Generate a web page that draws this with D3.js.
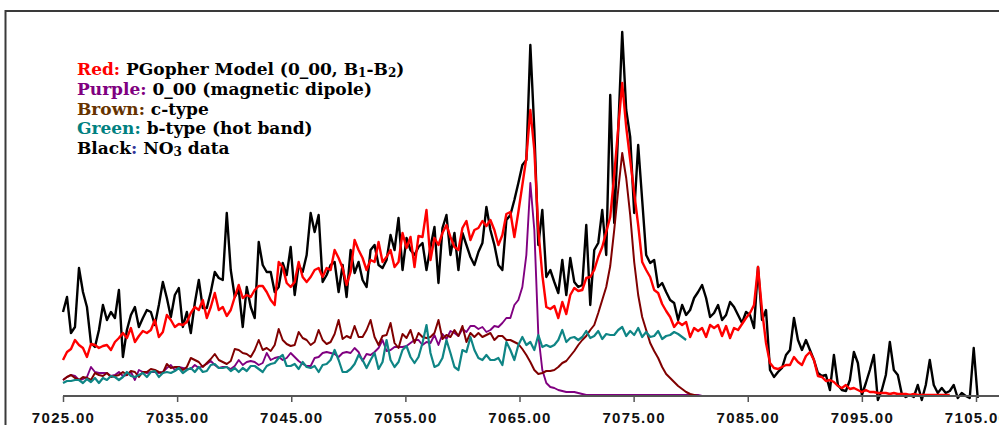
<!DOCTYPE html>
<html>
<head>
<meta charset="utf-8">
<script src="https://cdn.jsdelivr.net/npm/d3@7"></script>
<style>
  body { margin: 0; background: #fff; }
  svg { display: block; }
</style>
</head>
<body>
<div id="chart"></div>
<script>
// spectra sampled on an even grid, wavenumber = START + i * STEP (cm-1)
const START = 7025;
const STEP = 0.35;
const tickValues = [7025, 7035, 7045, 7055, 7065, 7075, 7085, 7095, 7105];

// NO3 data (black)
const dataBlack = [84,99,63,69,128,104,89,53,49,66,
  91,76,84,78,106,39,66,81,89,69,
  78,86,84,71,91,114,98,79,101,108,
  69,84,63,93,116,88,88,104,124,118,
  116,183,126,99,106,69,109,89,78,154,
  131,124,124,104,109,133,121,149,101,131,
  124,141,183,164,181,114,121,131,134,104,
  131,99,146,123,134,116,109,146,151,131,
  128,136,161,146,178,126,158,146,141,149,
  153,126,149,169,113,168,181,141,163,126,
  163,151,139,131,144,153,189,166,151,131,
  126,176,181,196,213,231,236,351,266,151,
  186,119,126,114,103,136,101,138,114,109,
  111,171,91,146,153,186,141,301,173,266,
  364,286,259,183,251,196,141,133,136,109,
  113,104,96,93,76,91,81,86,98,104,
  111,98,79,83,91,76,81,94,89,81,
  73,84,81,68,129,76,86,26,19,24,
  28,41,46,78,56,46,56,46,36,23,
  20,21,6,41,11,6,5,16,44,33,
  1,13,26,41,-4,6,21,54,26,21,
  2,-1,1,-1,11,-4,11,36,11,3,
  8,3,5,11,-2,3,0,-2,48,-2];

// PGopher model (red)
const modelRed = [36,44,47,56,51,48,39,52,51,48,
  50,51,46,54,58,63,58,68,54,60,
  65,63,66,76,59,64,81,76,69,72,
  71,74,83,89,86,96,78,89,103,86,
  89,80,86,99,111,98,101,99,106,110,
  110,104,96,91,134,129,113,109,114,134,
  119,114,119,126,128,119,128,126,146,138,
  128,111,124,156,146,138,126,136,134,154,
  134,139,146,129,134,163,148,159,129,160,
  159,186,136,158,151,163,171,159,149,146,
  168,175,156,166,168,175,170,176,166,151,
  161,182,184,159,184,211,238,286,246,166,
  121,89,87,90,78,94,82,101,108,105,
  106,118,119,126,139,149,164,179,221,268,
  313,269,236,203,171,134,126,119,106,103,
  92,85,79,69,74,71,74,59,68,65,
  68,59,71,68,71,60,70,58,68,66,
  72,78,83,91,129,86,53,33,28,27,
  29,31,31,39,34,31,40,44,36,20,
  19,15,16,14,10,8,11,7,8,6,
  4,6,4,4,3,3,3,2,3,2,
  2,2,1,2,1,1,1,1,1,1,
  1,1,1];

// 0_00 magnetic dipole (purple)
const magDipole = [16,19,21,20,16,17,19,29,24,23,
  23,23,20,21,24,20,21,24,16,26,
  24,23,24,24,23,24,28,31,26,29,
  28,27,27,31,28,30,32,35,31,28,
  29,29,27,30,36,31,34,35,34,31,
  33,43,36,38,39,36,38,43,39,35,
  32,30,30,38,39,43,44,43,42,39,
  43,44,43,48,44,35,42,41,44,48,
  56,45,46,49,49,49,50,53,56,56,
  51,54,53,61,51,62,57,65,63,60,
  67,64,70,70,67,69,64,66,70,69,
  73,78,78,91,96,109,141,213,166,61,
  26,13,9,8,6,5,4,4,4,3,
  2,1,1,1,1,1,1,1,1,1,
  1,1,1,1,1,1,1,1,1,1,
  1,1,1,1,1,1,1,1,1,1,
  0,0,0,0,0,0,0,0,0,0];

// c-type (brown)
const cType = [16,19,21,18,16,19,18,16,23,21,
  20,23,19,20,21,24,21,25,24,19,
  24,24,27,26,24,23,32,28,29,29,
  26,29,38,36,34,29,33,37,42,36,
  34,32,35,47,46,43,42,39,46,56,
  46,48,45,51,67,56,52,50,51,64,
  58,56,51,54,66,56,52,54,62,76,
  57,60,58,70,59,59,66,76,59,51,
  60,61,73,53,48,62,58,66,53,63,
  59,58,59,63,76,57,61,59,66,60,
  70,54,63,59,63,59,61,63,56,60,
  60,56,56,54,52,47,41,34,26,22,
  23,25,25,26,29,33,35,40,45,51,
  56,60,66,71,83,96,109,130,166,206,
  243,218,181,134,101,79,66,53,45,38,
  29,22,18,14,10,7,4,2,1,0,
  0,0,0,0,0,0,0,0,0,0,
  0,0,0,0,0,0,0,0,0,0,
  0,0,0,0,0,0,0,0,0,0,
  0,0,0,0,0,0,0,0,0,0,
  0,0,0,0,0,0,0,0,0,0,
  0,0,0,0,0,0,0,0,0,0,
  0,0,0];

// b-type hot band (green)
const bTypeHot = [13,15,15,16,16,13,17,14,18,13,
  18,16,20,19,16,19,24,20,19,21,
  23,19,24,25,19,23,24,23,25,28,
  23,26,28,24,29,24,25,31,32,28,
  28,29,25,28,24,28,25,30,30,27,
  24,30,32,33,38,41,30,30,32,27,
  34,29,28,30,24,31,32,36,46,36,
  24,24,27,32,41,36,28,36,43,27,
  34,56,36,29,34,46,50,39,33,39,
  53,71,43,29,31,38,56,43,29,26,
  46,44,59,46,38,36,41,36,36,38,
  31,54,46,36,51,59,51,54,46,61,
  49,51,49,51,56,66,54,58,59,56,
  59,65,58,60,65,57,62,61,61,66,
  69,60,65,61,68,59,64,59,60,65,
  57,60,61,64,62,59,56];

const legendLines = [
  [{t: "Red:", c: "#ff0000"}, {t: " PGopher Model (0_00, B"}, {t: "1", sub: true}, {t: "-B"}, {t: "2", sub: true}, {t: ")"}],
  [{t: "Purple:", c: "#800080"}, {t: " 0_00 (magnetic dipole)"}],
  [{t: "Brown:", c: "#663300"}, {t: " c-type"}],
  [{t: "Green:", c: "#008080"}, {t: " b-type (hot band)"}],
  [{t: "Black", c: "#000000"}, {t: ":", c: "#333399"}, {t: " NO"}, {t: "3", sub: true}, {t: " data"}]
];

const width = 999, height = 425;

const svg = d3.select('#chart').append('svg')
    .attr('width', width)
    .attr('height', height);

const x = d3.scaleLinear().domain([7025, 7105]).range([63, 976]);
const y = d3.scaleLinear().domain([0, 370]).range([396, 26]);

// frame (top and left edge of the plot box)
svg.append('path')
    .attr('d', 'M5.5,' + height + 'V11H' + width)
    .attr('fill', 'none')
    .attr('stroke', '#3a3a3a')
    .attr('stroke-width', 2);

const line = d3.line()
    .x((d, i) => x(START + i * STEP))
    .y(d => y(d));

const series = [
  {values: dataBlack, color: '#000000', w: 2.4},
  {values: modelRed, color: '#ff0000', w: 2.4},
  {values: magDipole, color: '#800080', w: 1.9},
  {values: cType, color: '#800000', w: 2},
  {values: bTypeHot, color: '#0f8585', w: 2.2}
];

svg.selectAll('path.spec').data(series).enter().append('path')
    .attr('class', 'spec')
    .attr('d', d => line(d.values))
    .attr('fill', 'none')
    .attr('stroke', d => d.color)
    .attr('stroke-width', d => d.w)
    .attr('stroke-linejoin', 'round');

// x axis
const axis = svg.append('g')
    .attr('transform', 'translate(0,' + y(0) + ')')
    .call(d3.axisBottom(x)
        .tickValues(tickValues)
        .tickFormat(d3.format('.2f'))
        .tickSize(6)
        .tickSizeOuter(0));

axis.select('.domain').remove();
axis.append('line')
    .attr('x1', x(7025))
    .attr('x2', width)
    .attr('stroke', '#555')
    .attr('stroke-width', 2);
axis.selectAll('.tick line').attr('stroke', '#555').attr('stroke-width', 1.5);
axis.selectAll('.tick text')
    .attr('y', 27)
    .attr('dy', 0)
    .attr('fill', '#111')
    .style('font-family', '"Liberation Sans", Arial, sans-serif')
    .style('font-weight', 'bold')
    .style('font-size', '15px')
    .style('letter-spacing', '1.3px');

// legend text
const legend = svg.append('g')
    .style('font-family', '"DejaVu Serif", serif')
    .style('font-weight', 'bold')
    .style('font-size', '17px');

legend.selectAll('text').data(legendLines).enter().append('text')
    .attr('x', 77)
    .attr('y', (d, i) => 75 + i * 19.8)
    .each(function(parts) {
      const t = d3.select(this);
      parts.forEach((p, j) => {
        const s = t.append('tspan')
            .attr('fill', p.c || '#000')
            .text(p.t);
        if (p.sub) {
          s.style('font-size', '12px').attr('dy', 2);
        } else if (j > 0 && parts[j - 1].sub) {
          s.attr('dy', -2);   // back to the baseline after a subscript
        }
      });
    });
</script>
</body>
</html>
